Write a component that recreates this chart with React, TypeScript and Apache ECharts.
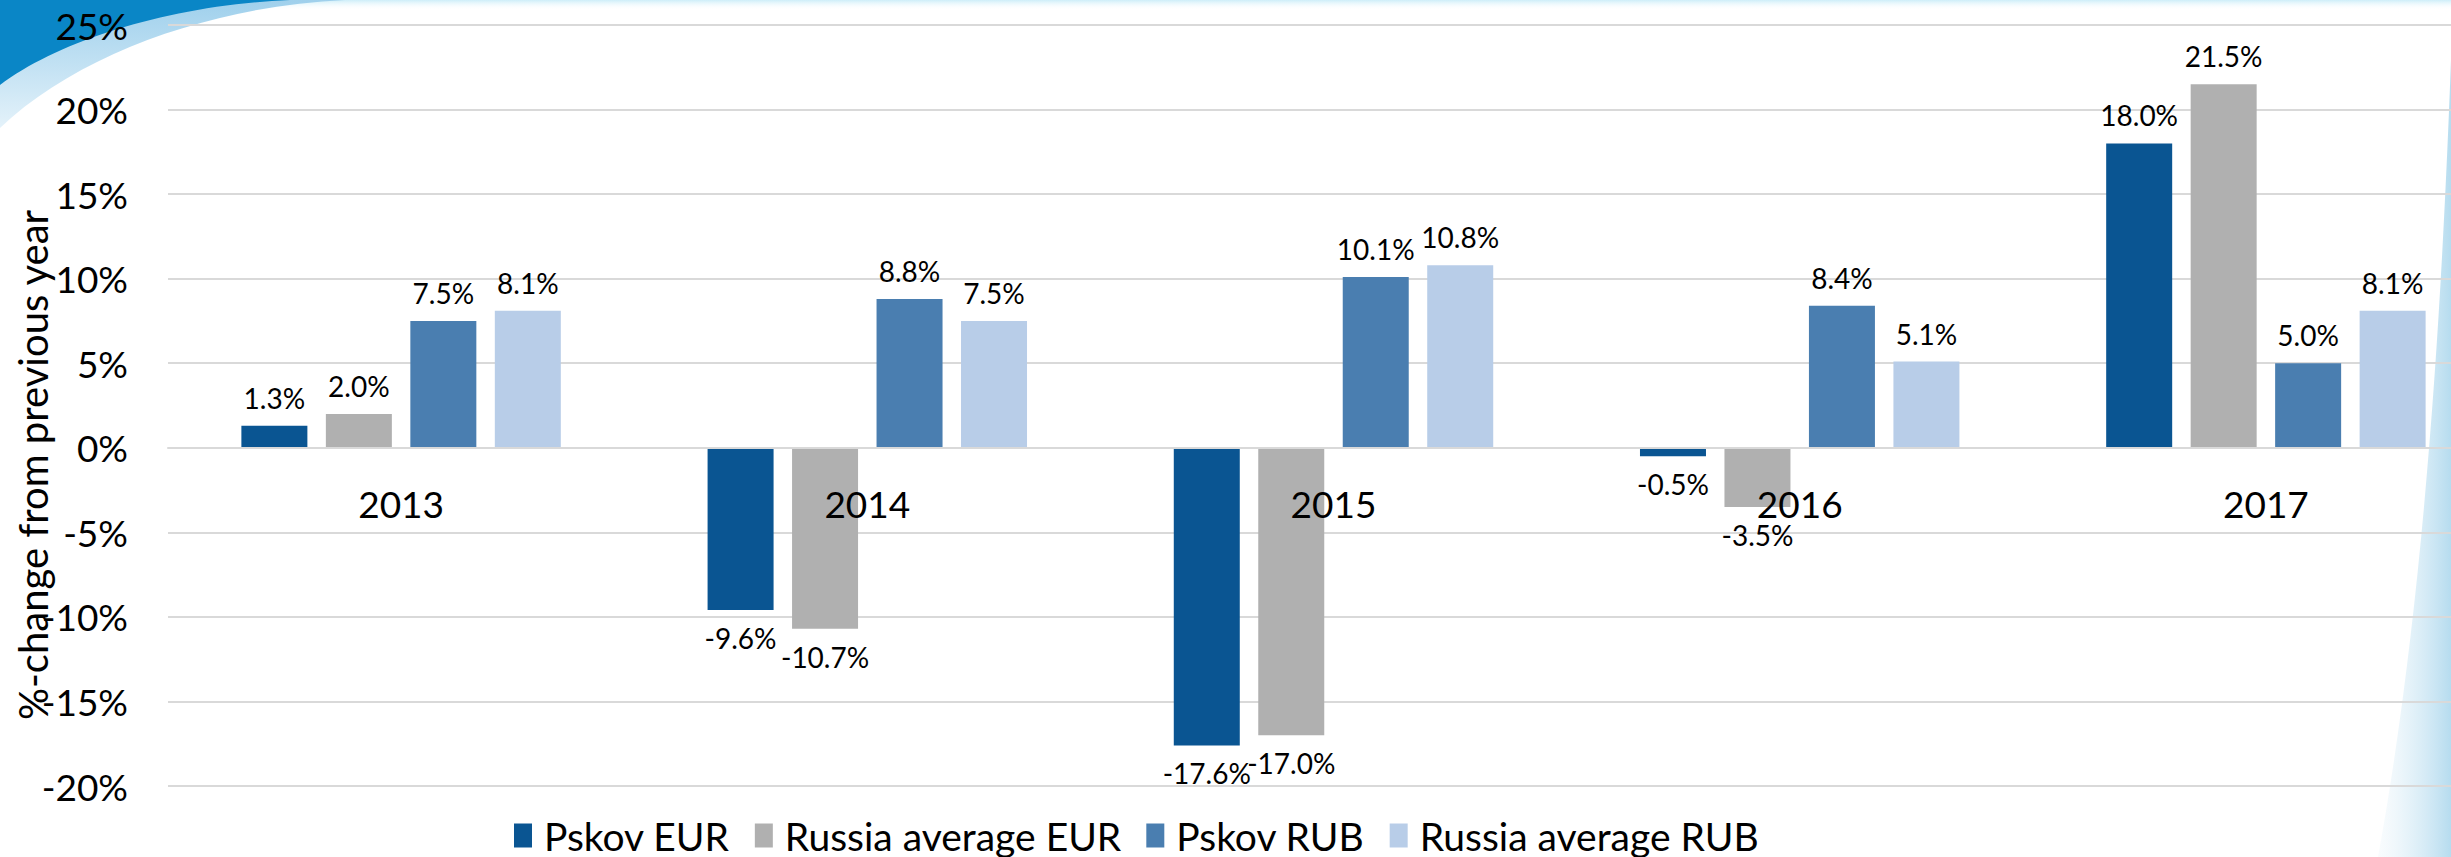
import React, { useEffect, useRef } from "react";
import * as echarts from "echarts";

const years = ["2013", "2014", "2015", "2016", "2017"];
const seriesNames = ["Pskov EUR", "Russia average EUR", "Pskov RUB", "Russia average RUB"];
const pskovEur = [1.3, -9.6, -17.6, -0.5, 18.0];
const russiaEur = [2.0, -10.7, -17.0, -3.5, 21.5];
const pskovRub = [7.5, 8.8, 10.1, 8.4, 5.0];
const russiaRub = [8.1, 7.5, 10.8, 5.1, 8.1];
const colors = ["#0a5592", "#b0b0b0", "#4a7eb0", "#b8cde8"];
const yMin = -20;
const yMax = 25;
const yStep = 5;

const FONT = "Lato, 'Noto Sans', sans-serif";

export default function App() {
  const ref = useRef<HTMLDivElement>(null);

  useEffect(() => {
    if (!ref.current) return;
    echarts.graphic.registerShape(
      "swooshDark",
      echarts.graphic.extendPath("M0 0 L290 0 C170 5 60 40 0 85 Z", {})
    );
    echarts.graphic.registerShape(
      "swooshLight",
      echarts.graphic.extendPath("M0 0 L345 0 C215 6 80 52 0 128 Z", {})
    );
    echarts.graphic.registerShape(
      "swooshRight",
      echarts.graphic.extendPath("M2451 60 C2442 300 2425 600 2378 857 L2451 857 Z", {})
    );
    const chart = echarts.init(ref.current, null, { renderer: "svg" });
    const all = [pskovEur, russiaEur, pskovRub, russiaRub];
    const gridTop = 25;
    const gridHeight = 761;
    const option: any = {
      animation: false,
      backgroundColor: "#ffffff",
      color: colors,
      textStyle: { fontFamily: FONT },
      graphic: [
        {
          type: "rect",
          z: -20,
          silent: true,
          shape: { x: 0, y: 0, width: 2451, height: 10 },
          style: {
            fill: new echarts.graphic.LinearGradient(0, 0, 0, 1, [
              { offset: 0, color: "rgba(200,236,248,0.9)" },
              { offset: 1, color: "rgba(255,255,255,0)" },
            ]),
          },
        },
        {
          type: "swooshRight",
          z: -20,
          silent: true,
          style: {
            fill: new echarts.graphic.LinearGradient(0, 0, 1, 0, [
              { offset: 0, color: "rgba(225,240,248,0.2)" },
              { offset: 1, color: "rgba(178,218,238,0.95)" },
            ]),
          },
        },
        {
          type: "swooshLight",
          z: -19,
          silent: true,
          style: {
            fill: new echarts.graphic.LinearGradient(0, 0, 0, 1, [
              { offset: 0, color: "#9fd0ec" },
              { offset: 1, color: "#e4f2fa" },
            ]),
          },
        },
        {
          type: "swooshDark",
          z: -18,
          silent: true,
          style: { fill: "#0a86c6" },
        },
        {
          type: "text",
          z: 10,
          x: 33,
          y: 465,
          rotation: Math.PI / 2,
          style: {
            text: "%-change from previous year",
            fontSize: 40,
            fontFamily: FONT,
            fill: "#000",
            align: "center",
            verticalAlign: "middle",
          },
        },
      ],
      grid: {
        left: 168,
        top: gridTop,
        width: 2331,
        height: gridHeight,
        containLabel: false,
        outerBoundsMode: "none",
      },
      legend: {
        data: seriesNames,
        left: 514,
        top: 816,
        icon: "rect",
        itemWidth: 18,
        itemHeight: 24,
        itemGap: 25,
        padding: 0,
        textStyle: { fontSize: 39, color: "#000", fontFamily: FONT, padding: [0, 0, 0, 7] },
      },
      xAxis: {
        type: "category",
        data: years,
        position: "bottom",
        offset: 0,
        z: 10,
        axisLine: { onZero: false, lineStyle: { color: "#d9d9d9", width: 2 } },
        axisTick: { show: false },
        axisLabel: { fontSize: 37, color: "#000", margin: 37, fontFamily: FONT },
        splitLine: { show: false },
      },
      yAxis: {
        type: "value",
        min: yMin,
        max: yMax,
        interval: yStep,
        axisLine: { show: false },
        axisTick: { show: false },
        axisLabel: {
          fontSize: 37,
          color: "#000",
          margin: 40,
          fontFamily: FONT,
          formatter: (v: number) => `${v}%`,
        },
        splitLine: { lineStyle: { color: "#d9d9d9", width: 2 } },
      },
      series: all.map((vals, i) => ({
        name: seriesNames[i],
        type: "bar",
        barWidth: 66,
        barGap: "28%",
        itemStyle: { color: colors[i] },
        label: {
          show: true,
          distance: 14,
          fontSize: 28,
          color: "#000",
          fontFamily: FONT,
          formatter: (p: any) => `${Number(p.value).toFixed(1)}%`,
        },
        data: vals.map((v) => ({ value: v, label: { position: v < 0 ? "bottom" : "top" } })),
      })),
    };
    chart.setOption(option);
    // place the category axis on the zero line, using the value axis' own scale
    const zeroY = chart.convertToPixel({ yAxisIndex: 0 }, 0) as number;
    const bottomY = chart.convertToPixel({ yAxisIndex: 0 }, yMin) as number;
    chart.setOption({ xAxis: { offset: -(bottomY - zeroY) } });
    return () => chart.dispose();
  }, []);

  return (
    <div
      ref={ref}
      style={{ position: "absolute", left: 0, top: 0, width: 2451, height: 857 }}
    />
  );
}
